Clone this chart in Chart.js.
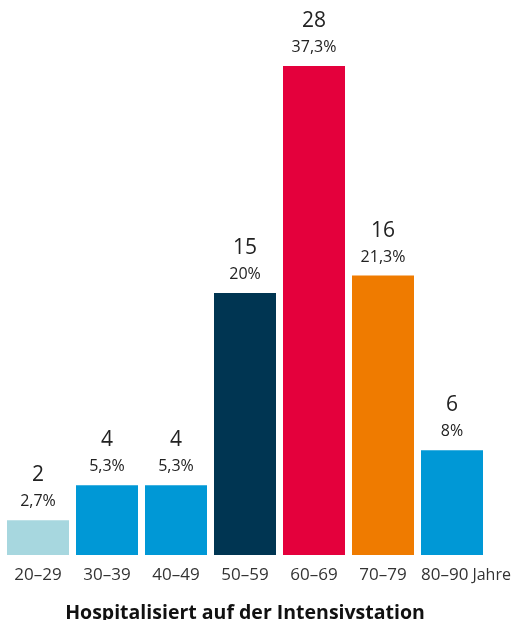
<!DOCTYPE html>
<html>
<head>
<meta charset="utf-8">
<script src="https://cdn.jsdelivr.net/npm/chart.js@4/dist/chart.umd.min.js"></script>
<style>
    html, body { margin: 0; padding: 0; background: #fff; }
    #wrap { width: 518px; height: 620px; position: relative; }
</style>
</head>
<body>
<div id="wrap"><canvas id="icu-chart"></canvas></div>
<script>
// age groups, patient counts and shares
let ageGroups = ['20–29', '30–39', '40–49', '50–59', '60–69', '70–79', '80–90'];
let patients = [2, 4, 4, 15, 28, 16, 6];
let shares = ['2,7%', '5,3%', '5,3%', '20%', '37,3%', '21,3%', '8%'];
let barColors = ['#a7d7df', '#0098d6', '#0098d6', '#003552', '#e4003c', '#ef7b00', '#0098d6'];
let unitLabel = 'Jahre';

const FONT = '"Open Sans", sans-serif';
const LAST = ageGroups.length - 1;

// numbers and percentages above every bar; the last age group is written
// together with the unit, slightly left of its bar centre
const barLabels = {
    id: 'barLabels',
    afterDatasetsDraw(chart) {
        let ctx = chart.ctx;
        let meta = chart.getDatasetMeta(0);
        ctx.save();
        ctx.textAlign = 'center';
        ctx.textBaseline = 'alphabetic';
        ctx.fillStyle = '#222';
        meta.data.forEach((bar, i) => {
            ctx.font = '16px ' + FONT;
            ctx.fillText(shares[i], bar.x, bar.y - 14);
            ctx.font = '21px ' + FONT;
            ctx.fillText(patients[i], bar.x, bar.y - 39);
        });
        let xs = chart.scales.x;
        let x0 = xs.getPixelForTick(LAST) - 31;
        let y0 = chart.chartArea.bottom + 20;
        ctx.font = '17px ' + FONT;
        ctx.textAlign = 'left';
        ctx.textBaseline = 'middle';
        ctx.fillStyle = '#333';
        ctx.fillText(ageGroups[LAST], x0, y0);
        let w = ctx.measureText(ageGroups[LAST]).width;
        ctx.font = '16px ' + FONT;
        ctx.fillText(unitLabel, x0 + w + 4, y0);
        ctx.restore();
    }
};

var chart = new Chart(document.getElementById('icu-chart'), {
    type: 'bar',
    data: {
        labels: ageGroups,
        datasets: [{
            data: patients,
            backgroundColor: barColors,
            borderWidth: 0,
            barPercentage: 62 / 69,
            categoryPercentage: 1
        }]
    },
    options: {
        responsive: true,
        maintainAspectRatio: false,
        animation: false,
        layout: { padding: { left: 3.5, right: 31.5, top: 66, bottom: 0 } },
        scales: {
            x: {
                grid: { display: false, drawTicks: false },
                border: { display: false },
                ticks: {
                    color: (c) => c.index === LAST ? 'rgba(0,0,0,0)' : '#333',
                    font: { family: FONT, size: 17 },
                    padding: 10,
                    maxRotation: 0,
                    autoSkip: false
                }
            },
            y: {
                display: false,
                min: 0,
                max: 28
            }
        },
        plugins: {
            legend: { display: false },
            tooltip: { enabled: false },
            title: {
                display: true,
                position: 'bottom',
                text: 'Hospitalisiert auf der Intensivstation',
                color: '#111',
                font: { family: FONT, size: 19.5, weight: 'bold', lineHeight: 1 },
                padding: { top: 8, bottom: -3 }
            }
        }
    },
    plugins: [barLabels]
});
</script>
</body>
</html>
